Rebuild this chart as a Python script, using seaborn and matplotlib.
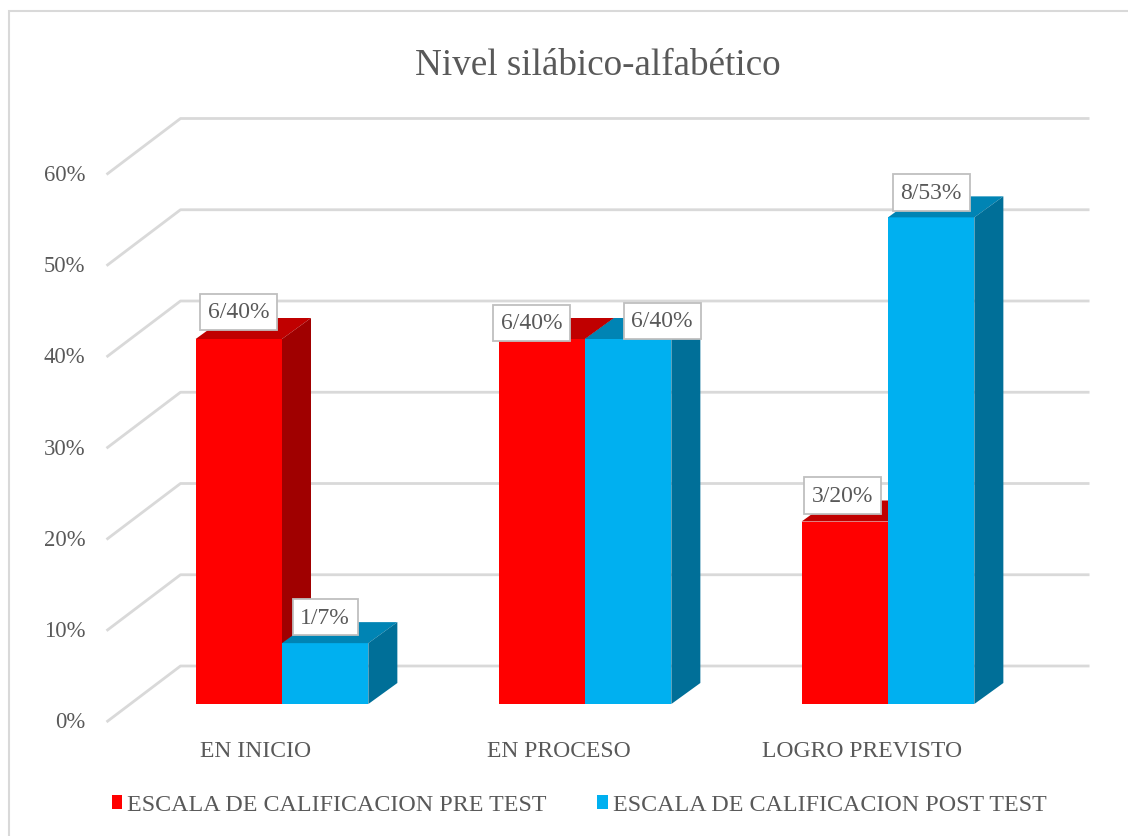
import pandas as pd
import matplotlib
matplotlib.use('Agg')
import matplotlib.pyplot as plt
import matplotlib.transforms as mtransforms
from matplotlib.patches import Polygon, Rectangle
import seaborn as sns

niveles = ['EN INICIO', 'EN PROCESO', 'LOGRO PREVISTO']
escalas = ['ESCALA DE CALIFICACION PRE TEST', 'ESCALA DE CALIFICACION POST TEST']
pre_test = [0.40, 0.40, 0.20]
post_test = [0.0667, 0.40, 0.5333]
pre_labels = ['6/40%', '6/40%', '3/20%']
post_labels = ['1/7%', '6/40%', '8/53%']
y_ticks = [0, 0.1, 0.2, 0.3, 0.4, 0.5, 0.6]
y_ticklabels = ['0%', '10%', '20%', '30%', '40%', '50%', '60%']

colores = ['#FF0000', '#00B0F0']
colores_top = ['#C00000', '#0084B4']
colores_side = ['#A00000', '#006F98']
gris_texto = '#595959'
gris_linea = '#D9D9D9'

df = pd.DataFrame({
    'nivel': niveles * 2,
    'valor': pre_test + post_test,
    'escala': [escalas[0]] * 3 + [escalas[1]] * 3,
})

sns.set_theme(style='white')
plt.rcParams['font.family'] = ['Liberation Serif', 'DejaVu Serif']

DPI = 100
W, H = 1128, 837
fig = plt.figure(figsize=(W / DPI, H / DPI), dpi=DPI)
# the axes is the front plane of the bars; walls / depth are pixel offsets
ax = fig.add_axes([130.5 / W, (H - 705) / H, 909 / W, 547.5 / H])
sns.barplot(data=df, x='nivel', y='valor', hue='escala', palette=colores,
            width=0.57, saturation=1, legend=False, linewidth=0, ax=ax)
ax.set_xlim(-0.5, 2.5)
ax.set_ylim(0, 0.6)
ax.axis('off')

FRONT = (-24, -18)   # front edge of the floor/wall lines
BACK = (50, 38)      # back wall
DEPTH = (29, 21)     # depth of each bar


def px(dx, dy):
    return mtransforms.ScaledTranslation(dx / DPI, dy / DPI, fig.dpi_scale_trans)


ident = mtransforms.IdentityTransform()
ytr = ax.get_yaxis_transform()

# gridlines: diagonal on the side wall + horizontal on the back wall
for v, lab in zip(y_ticks, y_ticklabels):
    x0, y0 = ytr.transform((0, v))
    x1, _ = ytr.transform((1, v))
    ax.plot([x0 + FRONT[0], x0 + BACK[0], x1 + BACK[0]],
            [y0 + FRONT[1], y0 + BACK[1], y0 + BACK[1]],
            transform=ident, color=gris_linea, lw=2, zorder=0.5, clip_on=False,
            solid_capstyle='butt')
    ax.text(0, v, lab, transform=ytr + px(FRONT[0] - 21, FRONT[1]),
            ha='right', va='center', fontsize=16.3, color=gris_texto)

# 3D faces of the bars
for i, cont in enumerate(ax.containers):
    for bar in cont:
        bar.set_zorder(2 + 2 * i)
        x0, y0 = ax.transData.transform((bar.get_x(), 0))
        x1, y1 = ax.transData.transform((bar.get_x() + bar.get_width(), bar.get_height()))
        dx, dy = DEPTH
        top = [(x0, y1), (x1, y1), (x1 + dx, y1 + dy), (x0 + dx, y1 + dy)]
        side = [(x1, y0), (x1, y1), (x1 + dx, y1 + dy), (x1 + dx, y0 + dy)]
        ax.add_patch(Polygon(top, closed=True, transform=ident, facecolor=colores_top[i],
                             edgecolor='none', zorder=2.5 + 2 * i, clip_on=False))
        ax.add_patch(Polygon(side, closed=True, transform=ident, facecolor=colores_side[i],
                             edgecolor='none', zorder=2.5 + 2 * i, clip_on=False))

# data labels (pixel nudges like Excel did)
label_nudge = [[(0, 27), (-10, 16), (-2, 26)],
               [(0, 26), (34, 18), (0, 25)]]
for i, (cont, labels) in enumerate(zip(ax.containers, [pre_labels, post_labels])):
    for j, (bar, lab) in enumerate(zip(cont, labels)):
        ndx, ndy = label_nudge[i][j]
        ax.annotate(lab, xy=(bar.get_x() + bar.get_width() / 2, bar.get_height()),
                    xytext=(ndx * 0.72, ndy * 0.72), textcoords='offset points',
                    ha='center', va='center', fontsize=17, color=gris_texto, zorder=10,
                    bbox=dict(boxstyle='square,pad=0.33', fc='white', ec='#BFBFBF', lw=1.3))

# category labels
for j, nivel in enumerate(niveles):
    ax.text(j, 0, nivel, transform=ax.transData + px(-26, -47),
            ha='center', va='center', fontsize=17, color=gris_texto)

ax.set_xlim(-0.5, 2.5)
ax.set_ylim(0, 0.6)

fig.text(598 / W, 1 - 66 / H, 'Nivel silábico-alfabético', ha='center', va='center',
         fontsize=26.7, color=gris_texto)

handles = [Rectangle((0, 0), 1, 1, facecolor=c, edgecolor='none') for c in colores]
fig.legend(handles, escalas, loc='center', bbox_to_anchor=(579 / W, 1 - 806 / H),
           ncol=2, frameon=False, fontsize=17.3, handlelength=0.45, handleheight=0.5,
           handletextpad=0.2, columnspacing=2.1, labelcolor=gris_texto)

# chart area border
fig.add_artist(Rectangle((9 / W, -0.1), 1.2, 1.1 - 12 / H, transform=fig.transFigure,
                         fill=False, edgecolor=gris_linea, lw=1.5))

fig.savefig('out.png', dpi=DPI)
